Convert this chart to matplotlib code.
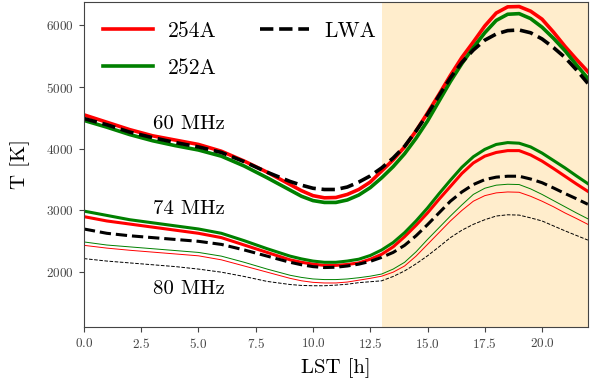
import matplotlib
matplotlib.use("Agg")
import matplotlib.pyplot as plt

plt.rcParams['font.family'] = 'serif'
plt.rcParams['font.serif'] = ['cmr10']
plt.rcParams['mathtext.fontset'] = 'cm'
plt.rcParams['axes.formatter.use_mathtext'] = True

# LST grid (hours)
lst = [0, 1, 2, 3, 4, 5, 6, 7, 8, 9, 9.5, 10, 10.5, 11, 11.5, 12, 12.5, 13, 13.5, 14,
       14.5, 15, 15.5, 16, 16.5, 17, 17.5, 18, 18.5, 19, 19.5, 20, 20.5, 21, 21.5, 22]

# 60 MHz
t60_254 = [4550, 4430, 4310, 4210, 4140, 4070, 3960, 3800, 3620, 3420, 3320, 3240, 3205,
           3210, 3260, 3340, 3460, 3640, 3820, 4030, 4290, 4580, 4880, 5190, 5480, 5730,
           5990, 6200, 6300, 6305, 6230, 6100, 5890, 5660, 5450, 5250]
t60_252 = [4460, 4350, 4230, 4130, 4050, 3980, 3880, 3720, 3530, 3330, 3230, 3160, 3130,
           3130, 3170, 3250, 3370, 3530, 3710, 3920, 4170, 4450, 4770, 5090, 5380, 5640,
           5880, 6080, 6180, 6190, 6110, 5970, 5790, 5590, 5360, 5140]
t60_lwa = [4490, 4390, 4270, 4180, 4100, 4030, 3940, 3790, 3620, 3470, 3410, 3360, 3340,
           3340, 3380, 3460, 3560, 3690, 3850, 4040, 4290, 4560, 4860, 5150, 5400, 5600,
           5760, 5860, 5915, 5925, 5880, 5780, 5640, 5480, 5280, 5060]

# 74 MHz
t74_254 = [2900, 2830, 2780, 2730, 2680, 2630, 2560, 2440, 2320, 2200, 2160, 2130, 2110,
           2110, 2125, 2150, 2210, 2290, 2410, 2575, 2760, 2960, 3180, 3390, 3600, 3770,
           3880, 3940, 3970, 3970, 3900, 3800, 3680, 3555, 3430, 3310]
t74_252 = [2990, 2920, 2850, 2800, 2750, 2700, 2630, 2510, 2380, 2260, 2215, 2180, 2160,
           2160, 2180, 2210, 2270, 2360, 2480, 2640, 2830, 3040, 3270, 3490, 3700, 3870,
           3990, 4070, 4100, 4090, 4030, 3930, 3810, 3690, 3560, 3435]
t74_lwa = [2700, 2630, 2590, 2560, 2530, 2500, 2450, 2360, 2260, 2160, 2120, 2090, 2075,
           2080, 2100, 2130, 2175, 2240, 2320, 2435, 2590, 2770, 2960, 3150, 3300, 3420,
           3500, 3540, 3555, 3555, 3510, 3450, 3365, 3275, 3190, 3100]

# 80 MHz
t80_254 = [2435, 2390, 2355, 2325, 2295, 2265, 2200, 2100, 2000, 1900, 1860, 1835, 1825,
           1825, 1840, 1870, 1900, 1935, 2000, 2100, 2260, 2450, 2640, 2830, 3000, 3150,
           3240, 3285, 3300, 3295, 3230, 3150, 3060, 2960, 2870, 2775]
t80_252 = [2490, 2440, 2410, 2380, 2350, 2320, 2260, 2160, 2050, 1950, 1915, 1890, 1880,
           1880, 1890, 1910, 1935, 1970, 2050, 2160, 2330, 2530, 2720, 2910, 3090, 3260,
           3360, 3410, 3425, 3420, 3350, 3260, 3160, 3060, 2960, 2865]
t80_lwa = [2220, 2180, 2150, 2120, 2090, 2050, 2000, 1930, 1850, 1800, 1785, 1780, 1780,
           1790, 1805, 1830, 1845, 1860, 1930, 2020, 2135, 2265, 2410, 2560, 2680, 2775,
           2850, 2910, 2930, 2925, 2880, 2830, 2750, 2670, 2595, 2520]

fig = plt.figure(figsize=(5.95, 3.83), dpi=100)
ax = fig.add_axes([0.141, 0.146, 0.847, 0.849])

ax.axvspan(13, 22, color='orange', alpha=0.2, lw=0, zorder=0)

ax.plot(lst, t60_254, color='red', lw=2.6, label='254A')
ax.plot(lst, t60_252, color='green', lw=2.6, label='252A')
ax.plot(lst, t60_lwa, color='black', lw=2.6, ls='--', label='LWA')

ax.plot(lst, t74_254, color='red', lw=2.2)
ax.plot(lst, t74_252, color='green', lw=2.2)
ax.plot(lst, t74_lwa, color='black', lw=2.2, ls='--')

ax.plot(lst, t80_254, color='red', lw=0.7)
ax.plot(lst, t80_252, color='green', lw=0.7)
ax.plot(lst, t80_lwa, color='black', lw=0.7, ls='--')

ax.text(3.0, 4400, '60 MHz', fontsize=15, va='center')
ax.text(3.0, 3020, '74 MHz', fontsize=15, va='center')
ax.text(3.0, 1720, '80 MHz', fontsize=15, va='center')

ax.set_xlim(0, 22)
ax.set_ylim(1110, 6380)
ax.set_xlabel('LST [h]', fontsize=15, labelpad=5)
ax.set_ylabel('T [K]', fontsize=15, labelpad=12)
ax.tick_params(labelsize=9.5, colors='#444444')
for s in ax.spines.values():
    s.set_color('#444444')

ax.legend(loc='upper left', ncol=2, frameon=False, fontsize=15.5,
          handlelength=2.3, handletextpad=0.7, columnspacing=2.0, labelspacing=0.8)

plt.savefig('out.png', dpi=100)
